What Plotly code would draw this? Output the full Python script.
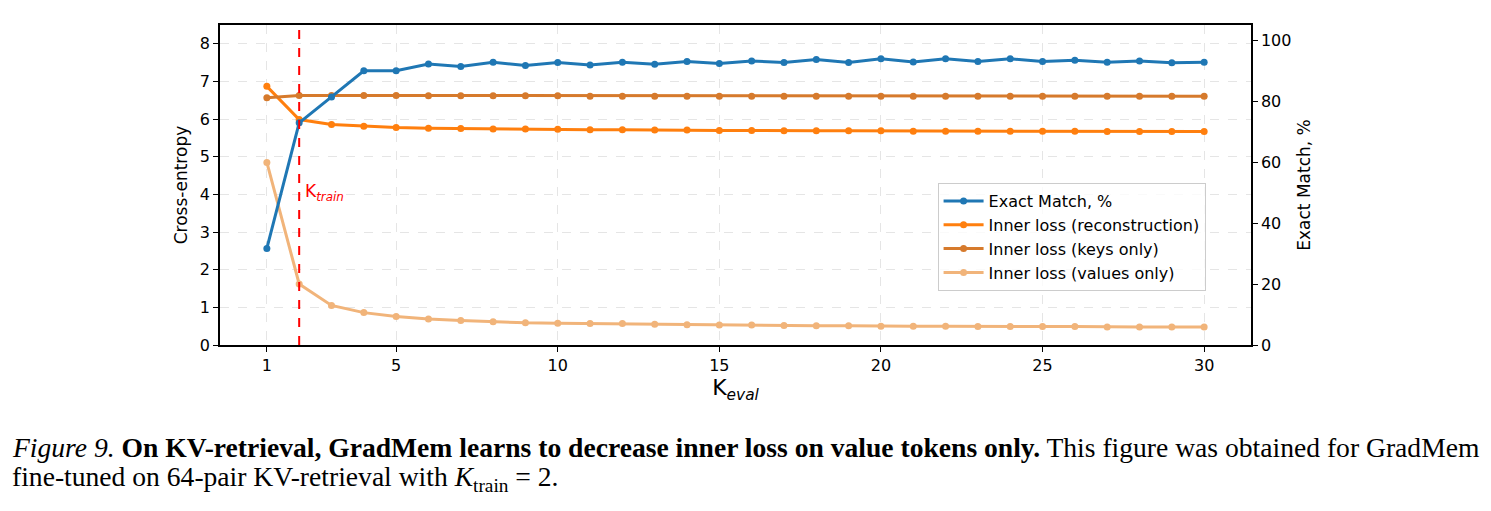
import plotly.graph_objects as go

k_eval = list(range(1, 31))
k_train = 2

exact_match = [31.7, 72.9, 81.4, 90.0, 90.0, 92.2, 91.4, 92.8, 91.7, 92.7,
               91.9, 92.8, 92.1, 93.0, 92.4, 93.2, 92.7, 93.7, 92.7, 93.9,
               92.9, 93.9, 93.0, 93.9, 93.0, 93.4, 92.8, 93.2, 92.6, 92.8]
inner_recon = [6.87, 5.99, 5.86, 5.81, 5.78, 5.76, 5.75, 5.74, 5.74, 5.73,
               5.72, 5.72, 5.71, 5.71, 5.70, 5.70, 5.69, 5.69, 5.69, 5.69,
               5.68, 5.68, 5.68, 5.68, 5.68, 5.68, 5.67, 5.67, 5.67, 5.67]
inner_keys = [6.57, 6.63, 6.63, 6.63, 6.63, 6.62, 6.62, 6.62, 6.62, 6.62,
              6.61, 6.61, 6.61, 6.61, 6.61, 6.61, 6.61, 6.61, 6.61, 6.61,
              6.61, 6.61, 6.61, 6.61, 6.61, 6.61, 6.61, 6.61, 6.61, 6.61]
inner_values = [4.85, 1.62, 1.05, 0.86, 0.76, 0.69, 0.65, 0.62, 0.59, 0.58,
                0.57, 0.57, 0.55, 0.54, 0.53, 0.53, 0.52, 0.51, 0.51, 0.50,
                0.50, 0.50, 0.49, 0.49, 0.49, 0.49, 0.48, 0.48, 0.48, 0.48]
x_ticks = [1, 5, 10, 15, 20, 25, 30]

FONT = "DejaVu Sans"
fig = go.Figure()

def add(y, name, color, yaxis="y"):
    fig.add_trace(go.Scatter(
        x=k_eval, y=y, name=name, mode="lines+markers", yaxis=yaxis,
        line=dict(color=color, width=3),
        marker=dict(color=color, size=7),
    ))

add(exact_match, "Exact Match, %", "#1f77b4", "y2")
add(inner_recon, "Inner loss (reconstruction)", "#ff7f0e")
add(inner_keys, "Inner loss (keys only)", "#d67a2c")
add(inner_values, "Inner loss (values only)", "#f1b47a")

fig.add_shape(type="line", xref="x", yref="paper", x0=k_train, x1=k_train,
              y0=0, y1=1, line=dict(color="red", width=2, dash="dash"))
fig.add_annotation(x=k_train, y=4.05, xref="x", yref="y", xanchor="left",
                   xshift=4, text="K<sub><i>train</i></sub>", showarrow=False,
                   font=dict(family=FONT, size=17, color="red"))

axis_common = dict(showline=True, linecolor="black", linewidth=1.5,
                   ticks="outside", ticklen=5, tickcolor="black",
                   tickfont=dict(family=FONT, size=16, color="black"),
                   zeroline=False)

fig.update_layout(
    width=1491, height=511,
    margin=dict(l=220, r=240, t=25, b=166),
    paper_bgcolor="white", plot_bgcolor="white",
    showlegend=True,
    legend=dict(x=0.696, y=0.506, xanchor="left", yanchor="top",
                bgcolor="rgba(255,255,255,0.8)", bordercolor="#cccccc",
                borderwidth=1, font=dict(family=FONT, size=16, color="black"),
                tracegroupgap=0, itemwidth=40),
    xaxis=dict(range=[-0.45, 31.45], tickvals=x_ticks, mirror=True,
               showgrid=True, gridcolor="#e5e5e5", griddash="dash",
               title=dict(text="K<sub><i>eval</i></sub>",
                          font=dict(family=FONT, size=22, color="black"),
                          standoff=6),
               **axis_common),
    yaxis=dict(range=[0, 8.5], tickvals=list(range(0, 9)),
               showgrid=True, gridcolor="#e5e5e5", griddash="dash",
               title=dict(text="Cross-entropy",
                          font=dict(family=FONT, size=17, color="black"),
                          standoff=8),
               **axis_common),
    yaxis2=dict(range=[0, 105], tickvals=[0, 20, 40, 60, 80, 100],
                overlaying="y", side="right", showgrid=False,
                title=dict(text="Exact Match, %",
                           font=dict(family=FONT, size=17, color="black"),
                           standoff=8),
                **axis_common),
)

caption1 = ("<i>Figure 9.</i> <b>On KV-retrieval, GradMem learns to decrease inner loss "
            "on value tokens only.</b> This figure was obtained for GradMem")
caption2 = "fine-tuned on 64-pair KV-retrieval with <i>K</i><sub>train</sub> = 2."
cap_font = dict(family="Liberation Serif", size=27.6, color="black")

pw = 1491 - 220 - 240
ph = 511 - 25 - 166
def px_to_paper(px, py):
    return (px - 220) / pw, (511 - 166 - py) / ph

for text, (cx, cy) in [(caption1, (10, 447)), (caption2, (10, 478))]:
    ax, ay = px_to_paper(cx, cy)
    fig.add_annotation(x=ax, y=ay, xref="paper", yref="paper", text=text,
                       showarrow=False, xanchor="left", yanchor="middle",
                       font=cap_font)

fig.write_html("out.html")
